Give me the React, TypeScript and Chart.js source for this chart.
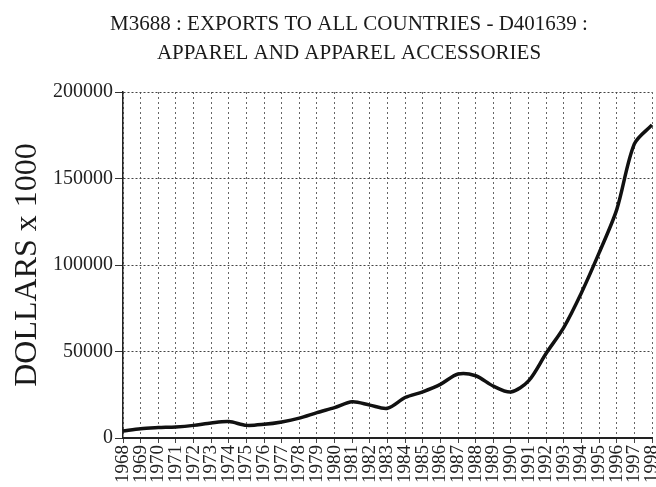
import React, { useEffect, useRef } from "react";
import { Chart, registerables } from "chart.js";

Chart.register(...registerables);

const years: string[] = [
  "1968", "1969", "1970", "1971", "1972", "1973", "1974", "1975", "1976", "1977",
  "1978", "1979", "1980", "1981", "1982", "1983", "1984", "1985", "1986", "1987",
  "1988", "1989", "1990", "1991", "1992", "1993", "1994", "1995", "1996", "1997", "1998",
];

const exportsValues: number[] = [
  4000, 5400, 6000, 6400, 7300, 8700, 9500, 7300, 7900, 9300,
  11500, 14700, 17600, 20900, 19000, 17200, 23400, 26700, 31000, 37000,
  36000, 30000, 26600, 33000, 49000, 64000, 84000, 107000, 132000, 170000, 181000,
];

const yTicks: number[] = [0, 50000, 100000, 150000, 200000];

const titleLines: string[] = [
  "M3688 : EXPORTS TO ALL COUNTRIES - D401639 :",
  "APPAREL AND APPAREL ACCESSORIES",
];

const yTitle = "DOLLARS x 1000";

const FONT = "'Liberation Serif', 'DejaVu Serif', serif";

export default function App() {
  const canvasRef = useRef<HTMLCanvasElement | null>(null);

  useEffect(() => {
    document.body.style.margin = "0";
    const canvas = canvasRef.current;
    if (!canvas) return;

    const titlePlugin = {
      id: "twoLineTitle",
      afterDraw(chart: any) {
        const ctx = chart.ctx;
        ctx.save();
        ctx.fillStyle = "#1a1a1a";
        ctx.font = `21px ${FONT}`;
        ctx.textAlign = "center";
        ctx.textBaseline = "middle";
        ctx.fillText(titleLines[0], 349, 24);
        ctx.fillText(titleLines[1], 349, 53);
        ctx.restore();
      },
    };

    const chart = new Chart(canvas, {
      type: "line",
      data: {
        labels: years,
        datasets: [
          {
            data: exportsValues,
            borderColor: "#111111",
            borderWidth: 3.5,
            pointRadius: 0,
            tension: 0.3,
            fill: false,
          },
        ],
      },
      options: {
        animation: false,
        responsive: false,
        layout: { padding: { top: 92, left: 0, right: 4, bottom: 0 } },
        plugins: {
          legend: { display: false },
          tooltip: { enabled: false },
          title: { display: false },
        },
        scales: {
          x: {
            offset: false,
            grid: {
              display: true,
              color: "#666666",
              lineWidth: 1,
              tickLength: 5,
              tickColor: "#444444",
              tickBorderDash: [],
            },
            border: { display: true, color: "#222222", width: 2, dash: [2, 3] },
            ticks: {
              autoSkip: false,
              maxRotation: 90,
              minRotation: 90,
              padding: 2,
              color: "#222222",
              font: { family: FONT, size: 19 },
            },
            afterFit(scale: any) {
              scale.height = 49;
              scale.paddingLeft = 0;
              scale.paddingRight = 0;
            },
          },
          y: {
            min: 0,
            max: 200000,
            afterBuildTicks(scale: any) {
              scale.ticks = yTicks.map((v) => ({ value: v }));
            },
            grid: {
              display: true,
              color: "#444444",
              lineWidth: 1,
              tickLength: 8,
              tickColor: "#333333",
              tickBorderDash: [],
            },
            border: { display: true, color: "#222222", width: 1.5, dash: [2, 2] },
            ticks: {
              padding: 2,
              color: "#222222",
              font: { family: FONT, size: 20 },
              callback: (v: any) => String(v),
            },
            title: {
              display: true,
              text: yTitle,
              color: "#1a1a1a",
              font: { family: FONT, size: 32 },
              padding: { top: 8, bottom: 0 },
            },
            afterFit(scale: any) {
              scale.width = 123;
              scale.paddingTop = 0;
              scale.paddingBottom = 0;
            },
          },
        },
      },
      plugins: [titlePlugin],
    } as any);

    return () => {
      chart.destroy();
    };
  }, []);

  return (
    <div style={{ width: 656, height: 487, background: "#ffffff" }}>
      <canvas ref={canvasRef} width={656} height={487} />
    </div>
  );
}
